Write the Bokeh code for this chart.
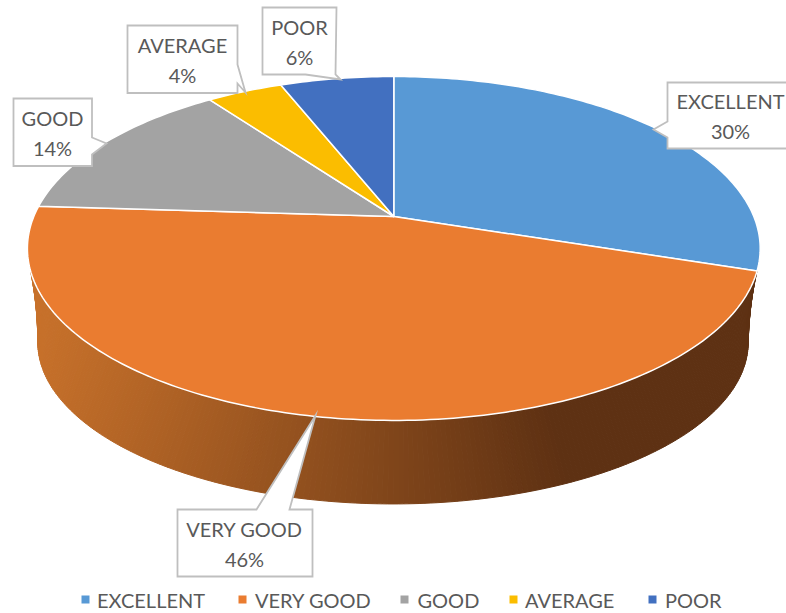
import math
from bokeh.plotting import figure
from bokeh.models import Range1d, ColumnDataSource
from bokeh.core.properties import value
from bokeh.embed import file_html
from bokeh.resources import INLINE

categories = ["EXCELLENT", "VERY GOOD", "GOOD", "AVERAGE", "POOR"]
values = [30, 46, 14, 4, 6]
colors = ["#5899D5", "#EA7C30", "#A3A3A3", "#FBBD00", "#4270C0"]
percent_labels = ["30%", "46%", "14%", "4%", "6%"]

FONT = "Lato"
TXT = "#595959"
W, H = 786, 613

p = figure(width=W, height=H, output_backend="svg", toolbar_location=None,
           x_range=Range1d(0, W), y_range=Range1d(H, 0),
           min_border=0, outline_line_color=None, background_fill_color="white")
p.axis.visible = False
p.grid.visible = False


def project(deg, cx, cy, a, b, k=0.186):
    t = math.radians(deg)
    u, v = math.sin(t), math.cos(t)
    d = 1 + k * v
    return cx + a * u / d, cy - b * v / d


TOP = (393.3, 216, 360, 166)
BOT = (392.5, 311.8, 349, 156)

# side wall (horizontal gradient built from thin strips)
N = 240
wx, wy, wc = [], [], []
c0, c1 = (201, 114, 43), (94, 49, 19)
for i in range(N):
    t0, t1 = i / N, (i + 1) / N
    a0, a1 = 108 + t0 * 144, 108 + t1 * 144
    b0, b1 = 94 + t0 * 172, 94 + t1 * 172
    P = [project(a0, *TOP), project(a1, *TOP), project(b1, *BOT), project(b0, *BOT)]
    xs = [q[0] for q in P]
    ys = [q[1] for q in P]
    f = min(1, max(0, (560 - sum(xs) / 4) / (560 - 30)))
    col = tuple(int(c1[j] + (c0[j] - c1[j]) * f) for j in range(3))
    wx.append(xs)
    wy.append(ys)
    wc.append("#%02x%02x%02x" % col)
p.patches("x", "y", source=ColumnDataSource(dict(x=wx, y=wy, c=wc)),
          fill_color="c", line_color="c", line_width=1)

# top slices
total = sum(values)
sx, sy = [], []
start = 0.0
for val in values:
    end = start + 360 * val / total
    n = max(4, int(end - start))
    pts = [project(start + (end - start) * i / n, *TOP) for i in range(n + 1)]
    sx.append([TOP[0]] + [q[0] for q in pts])
    sy.append([TOP[1]] + [q[1] for q in pts])
    start = end
p.patches("x", "y", source=ColumnDataSource(dict(x=sx, y=sy, c=colors)),
          fill_color="c", line_color="white", line_width=1.5, line_join="round")

# callouts: box (left, top, right, bottom), pointer base and tip
callouts = [
    (667, 82, 800, 148, [(667, 121), (653, 129), (667, 137)], 730, 115),
    (177, 509, 312, 576, [(289, 509), (315, 415), (256, 509)], 244, 543),
    (13, 98, 91.5, 165.5, [(91.5, 137), (106, 143), (91.5, 154)], 52, 132),
    (127, 25, 237, 92.5, [(237, 64), (245, 92), (237, 83)], 182, 59),
    (262, 7, 336, 74, [(305, 74), (340, 79), (335, 74)], 299, 41),
]
for i, (l, t, r, b, ptr, tx, ty) in enumerate(callouts):
    if i == 0:      # pointer on left edge
        poly = [(l, t), (r, t), (r, b), (l, b), ptr[2], ptr[1], ptr[0]]
    elif i == 1:    # pointer on top edge
        poly = [(l, t), ptr[2], ptr[1], ptr[0], (r, t), (r, b), (l, b)]
    elif i == 2:    # pointer on right edge
        poly = [(l, t), (r, t), ptr[0], ptr[1], ptr[2], (r, b), (l, b)]
    elif i == 3:
        poly = [(l, t), (r, t), ptr[0], ptr[1], ptr[2], (r, b), (l, b)]
    else:           # pointer on bottom edge
        poly = [(l, t), (r, t), ptr[2], ptr[1], ptr[0], (l, b)]
    p.patch([q[0] for q in poly], [q[1] for q in poly], fill_color="white",
            line_color="#BFBFBF", line_width=1.8, line_join="miter")
    p.text([tx], [ty - 15], text=[categories[i]], text_font=value(FONT),
           text_font_size="20px", text_color=TXT, text_align="center",
           text_baseline="middle")
    p.text([tx], [ty + 15], text=[percent_labels[i]], text_font=value(FONT),
           text_font_size="20px", text_color=TXT, text_align="center",
           text_baseline="middle")

# legend
legend_marker_x = [85, 242, 404, 513, 652]
legend_text_x = [96.5, 254.5, 417, 524.5, 664.5]
LEG_Y = 599
p.scatter(legend_marker_x, [LEG_Y] * 5, marker="square", size=8,
          fill_color=colors, line_color=None)
p.text(legend_text_x, [LEG_Y] * 5, text=categories, text_font=value(FONT),
       text_font_size="20px", text_color=TXT, text_align="left",
       text_baseline="middle")

open("out.html", "w").write(file_html(p, INLINE))
